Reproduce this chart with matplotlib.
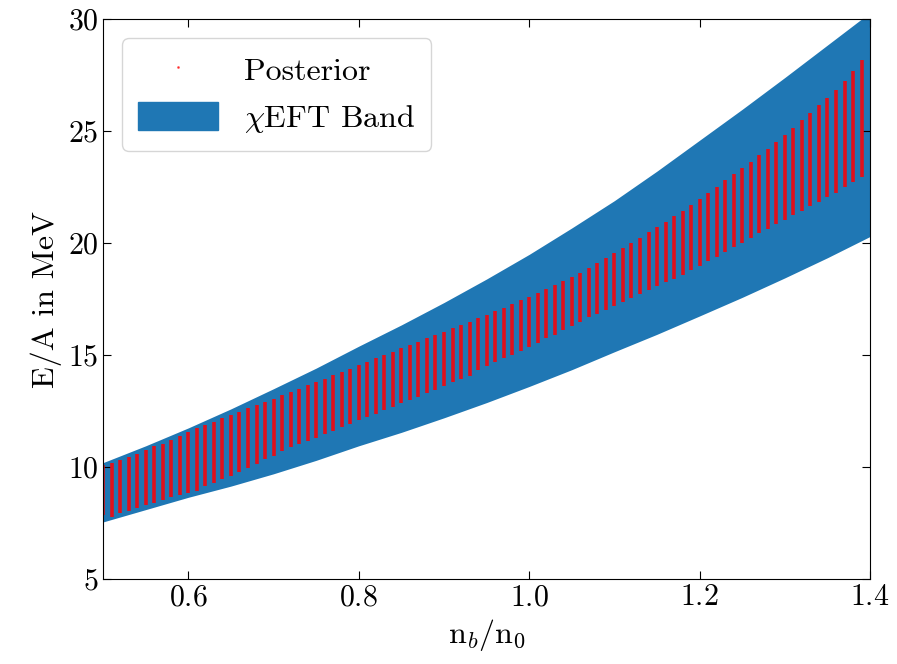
import numpy as np
import matplotlib
matplotlib.use("Agg")
import matplotlib.pyplot as plt
from matplotlib.lines import Line2D
from matplotlib.patches import Patch

plt.rcParams['font.family'] = 'serif'
plt.rcParams['font.serif'] = ['cmr10', 'DejaVu Serif']
plt.rcParams['mathtext.fontset'] = 'cm'
plt.rcParams['axes.formatter.use_mathtext'] = True

# chiEFT band edges
band_x = [0.5, 0.55, 0.6, 0.65, 0.7, 0.75, 0.8, 0.85, 0.9, 0.95,
          1.0, 1.05, 1.1, 1.15, 1.2, 1.25, 1.3, 1.35, 1.4]
band_upper = [10.2, 10.95, 11.75, 12.6, 13.5, 14.42, 15.4, 16.35, 17.35, 18.4,
              19.5, 20.68, 21.9, 23.22, 24.6, 25.98, 27.4, 28.85, 30.3]
band_lower = [7.55, 8.1, 8.65, 9.15, 9.7, 10.3, 10.95, 11.55, 12.2, 12.88,
              13.6, 14.35, 15.15, 15.93, 16.75, 17.58, 18.45, 19.35, 20.3]

# posterior columns: one per density value, top and bottom of the red points
post_x = np.round(np.arange(0.50, 1.395, 0.01), 2)
post_top = [
    10.10, 10.18, 10.30, 10.45, 10.60, 10.78, 10.92, 11.05, 11.20, 11.38,
    11.55, 11.74, 11.88, 12.02, 12.18, 12.32, 12.48, 12.62, 12.76, 12.92,
    13.05, 13.20, 13.35, 13.50, 13.65, 13.78, 13.95, 14.10, 14.25, 14.40,
    14.55, 14.70, 14.85, 15.00, 15.15, 15.30, 15.45, 15.60, 15.75, 15.90,
    16.05, 16.20, 16.35, 16.50, 16.65, 16.80, 16.95, 17.10, 17.28, 17.45,
    17.60, 17.78, 17.95, 18.12, 18.30, 18.48, 18.66, 18.88, 19.10, 19.32,
    19.55, 19.78, 20.00, 20.25, 20.48, 20.72, 20.95, 21.20, 21.45, 21.72,
    21.98, 22.25, 22.52, 22.80, 23.08, 23.35, 23.62, 23.92, 24.20, 24.50,
    24.82, 25.15, 25.48, 25.82, 26.15, 26.50, 26.85, 27.25, 27.70, 28.20,
]
post_bottom = [
    7.85, 7.75, 7.95, 8.05, 8.15, 8.30, 8.40, 8.55, 8.65, 8.75,
    8.85, 8.95, 9.15, 9.30, 9.45, 9.60, 9.80, 9.95, 10.15, 10.35,
    10.50, 10.70, 10.88, 11.02, 11.18, 11.32, 11.48, 11.62, 11.78, 11.92,
    12.08, 12.24, 12.38, 12.54, 12.68, 12.84, 13.00, 13.15, 13.30, 13.46,
    13.62, 13.78, 13.94, 14.08, 14.35, 14.50, 14.68, 14.85, 15.02, 15.20,
    15.38, 15.55, 15.75, 15.92, 16.10, 16.30, 16.50, 16.68, 16.85, 17.02,
    17.20, 17.38, 17.55, 17.72, 17.90, 18.08, 18.25, 18.42, 18.60, 18.80,
    19.00, 19.20, 19.40, 19.60, 19.82, 20.02, 20.22, 20.45, 20.65, 20.85,
    21.05, 21.25, 21.45, 21.65, 21.85, 22.05, 22.25, 22.50, 22.75, 22.95,
]

fig = plt.figure(figsize=(8.97, 6.64), dpi=100)
ax = fig.add_axes([0.115, 0.128, 0.855, 0.843])

ax.fill_between(band_x, band_lower, band_upper, color='#1f77b4', lw=0, zorder=1)
ax.vlines(post_x, post_bottom, post_top, color='#e0101c', lw=2.6, zorder=2)

ax.set_xlim(0.5, 1.4)
ax.set_ylim(5, 30)
ax.set_xticks([0.6, 0.8, 1.0, 1.2, 1.4])
ax.set_yticks([5, 10, 15, 20, 25, 30])
ax.tick_params(direction='in', top=True, right=True, labelsize=21.5, length=6)
ax.set_xlabel(r'n$_b$/n$_0$', fontsize=23)
ax.set_ylabel('E/A in MeV', fontsize=23)

handles = [Line2D([], [], ls='none', marker='.', ms=2, color='red', alpha=0.6),
           Patch(color='#1f77b4')]
ax.legend(handles, ['Posterior', r'$\chi$EFT Band'], loc='upper left',
          fontsize=23, handlelength=2.5, handleheight=1.0, borderpad=0.5,
          borderaxespad=0.6)

fig.savefig('out.png', dpi=100)
